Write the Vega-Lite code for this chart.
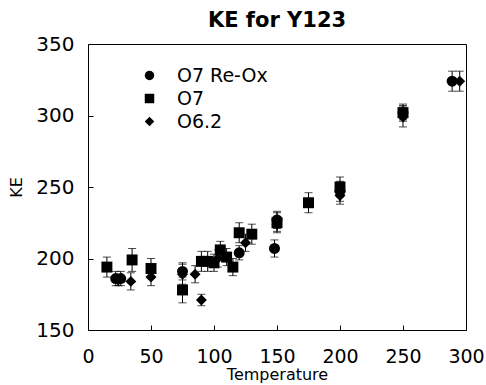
{
  "$schema": "https://vega.github.io/schema/vega-lite/v6.json",
  "autosize": "none",
  "width": 378,
  "height": 286,
  "padding": {"left": 88, "top": 44, "right": 20, "bottom": 55},
  "background": "white",
  "title": {"text": "KE for Y123", "fontSize": 21, "font": "DejaVu Sans", "fontWeight": "bold", "color": "black", "offset": 3, "anchor": "middle"},
  "config": {
    "view": {"stroke": "black", "strokeWidth": 1},
    "axis": {"grid": false, "domain": false, "tickColor": "black", "tickSize": -5, "labelFlush": false, "labelFont": "DejaVu Sans", "labelFontSize": 20, "labelColor": "black", "titleFont": "DejaVu Sans", "titleFontSize": 17, "titleFontWeight": "normal", "titleColor": "black"}
  },
  "data": {"values": [
    {"series": "O7 Re-Ox", "T": 22, "KE": 186, "err": 5},
    {"series": "O7 Re-Ox", "T": 26, "KE": 186, "err": 5},
    {"series": "O7 Re-Ox", "T": 75, "KE": 191, "err": 6},
    {"series": "O7 Re-Ox", "T": 120, "KE": 204, "err": 5},
    {"series": "O7 Re-Ox", "T": 148, "KE": 207, "err": 6},
    {"series": "O7 Re-Ox", "T": 150, "KE": 227, "err": 6},
    {"series": "O7 Re-Ox", "T": 200, "KE": 247, "err": 7},
    {"series": "O7 Re-Ox", "T": 250, "KE": 302, "err": 6},
    {"series": "O7 Re-Ox", "T": 289, "KE": 324, "err": 7},
    {"series": "O7", "T": 15, "KE": 194, "err": 7},
    {"series": "O7", "T": 35, "KE": 199, "err": 8},
    {"series": "O7", "T": 50, "KE": 193, "err": 7},
    {"series": "O7", "T": 75, "KE": 178, "err": 9},
    {"series": "O7", "T": 90, "KE": 198, "err": 7},
    {"series": "O7", "T": 95, "KE": 198, "err": 7},
    {"series": "O7", "T": 100, "KE": 197, "err": 6},
    {"series": "O7", "T": 105, "KE": 206, "err": 6},
    {"series": "O7", "T": 110, "KE": 201, "err": 6},
    {"series": "O7", "T": 115, "KE": 194, "err": 6},
    {"series": "O7", "T": 120, "KE": 218, "err": 7},
    {"series": "O7", "T": 130, "KE": 217, "err": 7},
    {"series": "O7", "T": 150, "KE": 225, "err": 7},
    {"series": "O7", "T": 175, "KE": 239, "err": 7},
    {"series": "O7", "T": 200, "KE": 250, "err": 7},
    {"series": "O7", "T": 250, "KE": 302, "err": 5},
    {"series": "O6.2", "T": 24, "KE": 185, "err": 4},
    {"series": "O6.2", "T": 34, "KE": 184, "err": 6},
    {"series": "O6.2", "T": 50, "KE": 187, "err": 6},
    {"series": "O6.2", "T": 75, "KE": 189, "err": 7},
    {"series": "O6.2", "T": 85, "KE": 189, "err": 6},
    {"series": "O6.2", "T": 90, "KE": 171, "err": 4},
    {"series": "O6.2", "T": 103, "KE": 200, "err": 6},
    {"series": "O6.2", "T": 125, "KE": 211, "err": 6},
    {"series": "O6.2", "T": 150, "KE": 224, "err": 5},
    {"series": "O6.2", "T": 200, "KE": 244, "err": 6},
    {"series": "O6.2", "T": 250, "KE": 299, "err": 7},
    {"series": "O6.2", "T": 295, "KE": 324, "err": 7}
  ]},
  "transform": [
    {"calculate": "datum.KE - datum.err", "as": "lo"},
    {"calculate": "datum.KE + datum.err", "as": "hi"}
  ],
  "layer": [
    {
      "mark": {"type": "rule", "color": "black", "strokeWidth": 1},
      "encoding": {
        "x": {"field": "T", "type": "quantitative"},
        "y": {"field": "lo", "type": "quantitative"},
        "y2": {"field": "hi"}
      }
    },
    {
      "mark": {"type": "tick", "orient": "horizontal", "color": "black", "size": 8, "thickness": 1},
      "encoding": {
        "x": {"field": "T", "type": "quantitative"},
        "y": {"field": "lo", "type": "quantitative"}
      }
    },
    {
      "mark": {"type": "tick", "orient": "horizontal", "color": "black", "size": 8, "thickness": 1},
      "encoding": {
        "x": {"field": "T", "type": "quantitative"},
        "y": {"field": "hi", "type": "quantitative"}
      }
    },
    {
      "mark": {"type": "point", "filled": true, "color": "black", "opacity": 1, "size": 120},
      "encoding": {
        "x": {"field": "T", "type": "quantitative", "title": "Temperature", "scale": {"domain": [0, 300], "nice": false}, "axis": {"values": [0, 50, 100, 150, 200, 250, 300], "labelFontSize": 19, "labelPadding": 22, "titlePadding": 0, "titleFontSize": 16}},
        "y": {"field": "KE", "type": "quantitative", "title": "KE", "scale": {"domain": [150, 350], "nice": false, "zero": false}, "axis": {"values": [150, 200, 250, 300, 350], "labelPadding": 19, "titlePadding": 11, "titleFontSize": 16}},
        "shape": {"field": "series", "type": "nominal", "scale": {"domain": ["O7 Re-Ox", "O7", "O6.2"], "range": ["circle", "square", "diamond"]},
          "legend": {"title": null, "orient": "none", "legendX": 52, "legendY": 22, "labelFont": "DejaVu Sans", "labelFontSize": 19, "labelColor": "black", "symbolSize": 90, "symbolFillColor": "black", "symbolStrokeColor": "black", "labelOffset": 18, "rowPadding": 3, "symbolOffset": 0}}
      }
    }
  ]
}
